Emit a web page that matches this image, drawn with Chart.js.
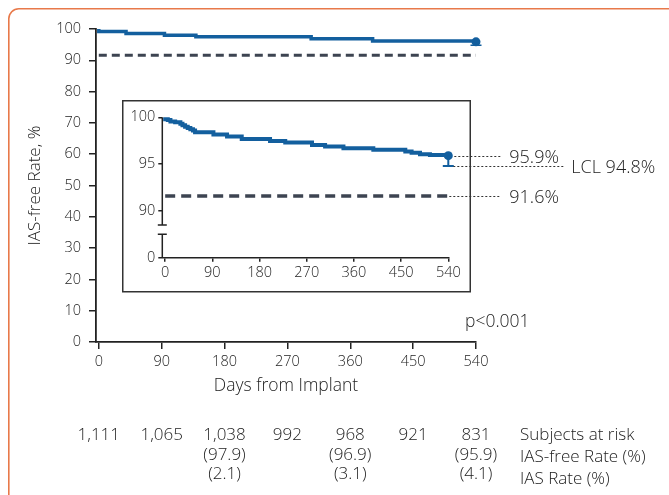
<!DOCTYPE html>
<html><head><meta charset="utf-8">
<script src="https://cdn.jsdelivr.net/npm/chart.js@4/dist/chart.umd.min.js"></script>
<style>
html,body{margin:0;padding:0;background:#fff;}
body{width:669px;height:495px;position:relative;overflow:hidden;font-family:"Open Sans",sans-serif;font-weight:300;color:#333;}
#main{position:absolute;left:0;top:0;}
#inset{position:absolute;left:122px;top:100px;}
.t{position:absolute;white-space:nowrap;font-size:15px;line-height:1;color:#222;font-weight:300;}
</style></head>
<body>
<canvas id="main" width="669" height="495"></canvas>
<canvas id="inset" width="547" height="193"></canvas>
<div id="labels"></div>
<script>
// ---- data ----
const dayTicks = [0, 90, 180, 270, 360, 450, 540];
// main (full-scale) Kaplan-Meier curve, as drawn in the large plot
const mainDays  = [0, 39, 94, 139, 304, 392, 466, 540];
const mainRates = [100, 99.2, 98.6, 98.0, 97.5, 96.9, 96.2, 96.2];
// inset (zoomed) Kaplan-Meier curve
const insetDays  = [0, 5, 10, 19, 29, 33, 38, 43, 48, 53, 57, 92, 118, 146, 200, 229, 280, 305, 340, 397, 458, 470, 486, 505, 524, 540];
const insetRates = [100, 99.8, 99.7, 99.55, 99.47, 99.3, 99.15, 99.0, 98.85, 98.72, 98.58, 98.4, 98.15, 97.94, 97.69, 97.48, 97.3, 97.05, 96.88, 96.7, 96.52, 96.34, 96.2, 96.06, 95.96, 95.96];
const finalDay = 540;
const finalRate = 95.9;
const lclRate = 94.8;
const thresholdRate = 91.6;
const insetYTicks = [85, 90, 95, 100];
const insetYTickLabels = ['0', '90', '95', '100'];
const atRisk   = ['1,111', '1,065', '1,038', '992', '968', '921', '831'];
const freeRate = ['', '', '(97.9)', '', '(96.9)', '', '(95.9)'];
const iasRate  = ['', '', '(2.1)', '', '(3.1)', '', '(4.1)'];
const rowLabels = ['Subjects at risk', 'IAS-free Rate (%)', 'IAS Rate (%)'];
const yTitle = 'IAS-free Rate, %';
const xTitle = 'Days from Implant';
const pText = 'p<0.001';

// ---- style ----
const blue = '#135f9e';
const dark = '#3d4451';
const axisCol = '#222';
const fontFam = '"Open Sans", sans-serif';
Chart.defaults.font.family = fontFam;
Chart.defaults.font.weight = 300;
Chart.defaults.color = '#222';

const pts = (xs, ys) => xs.map((d, i) => ({x: d, y: ys[i]}));

const errorBar = (capHalf, lw) => ({
  id: 'errbar',
  afterDatasetsDraw(chart) {
    const xs = chart.scales.x, ys = chart.scales.y, c = chart.ctx;
    const x = xs.getPixelForValue(finalDay);
    const y1 = ys.getPixelForValue(finalRate), y2 = ys.getPixelForValue(lclRate);
    c.save();
    c.strokeStyle = blue; c.lineWidth = lw;
    c.beginPath(); c.moveTo(x, y1); c.lineTo(x, y2);
    c.moveTo(x - capHalf, y2); c.lineTo(x + capHalf, y2); c.stroke();
    c.restore();
  }
});

// orange panel frame: only top and left edges fall inside the picture
const frame = {
  id: 'frame',
  beforeDraw(chart) {
    const c = chart.ctx, r = 10, x0 = 8.8, y0 = 8.8;
    c.save();
    c.strokeStyle = '#E8794A'; c.lineWidth = 1.6;
    c.beginPath();
    c.moveTo(x0, 496);
    c.lineTo(x0, y0 + r);
    c.arcTo(x0, y0, x0 + r, y0, r);
    c.lineTo(669, y0);
    c.stroke();
    c.restore();
  }
};

const main = new Chart(document.getElementById('main'), {
  type: 'line',
  data: { datasets: [
    { data: pts(mainDays, mainRates), stepped: 'after', borderColor: blue, borderWidth: 3.5, pointRadius: 0, clip: false },
    { data: [{x: 0, y: thresholdRate}, {x: finalDay, y: thresholdRate}], borderColor: dark, borderWidth: 3, borderDash: [8, 5], pointRadius: 0, clip: false },
    { data: [{x: finalDay, y: finalRate}], showLine: false, pointRadius: 4.5, pointBackgroundColor: blue, pointBorderWidth: 0, clip: false }
  ]},
  options: {
    responsive: false, animation: false, devicePixelRatio: 1,
    layout: { padding: { top: 29, right: 193, bottom: 0, left: 0 } },
    plugins: { legend: { display: false }, tooltip: { enabled: false } },
    scales: {
      x: { type: 'linear', min: -4, max: 540,
        afterBuildTicks: s => { s.ticks = dayTicks.map(v => ({value: v})); },
        afterFit: s => { s.height = 153; },
        grid: { drawOnChartArea: false, drawTicks: true, tickLength: 7, color: axisCol, lineWidth: 1.5 },
        border: { display: true, color: axisCol, width: 1.8 },
        ticks: { font: { size: 14.5 }, padding: 4, maxRotation: 0, autoSkip: false } },
      y: { min: 0, max: 100,
        afterFit: s => { s.width = 96; },
        title: { display: true, text: yTitle, font: { size: 17, weight: 300 }, color: '#222', padding: { top: 25, bottom: 0 } },
        grid: { drawOnChartArea: false, drawTicks: true, tickLength: 7, color: axisCol, lineWidth: 1.5 },
        border: { display: true, color: axisCol, width: 1.8 },
        ticks: { stepSize: 10, font: { size: 14.5 }, padding: 8 } }
    }
  },
  plugins: [frame, errorBar(5.5, 1.5)]
});

const insetDeco = {
  id: 'insetDeco',
  beforeDraw(chart) {
    const c = chart.ctx;
    c.save();
    c.fillStyle = '#fff'; c.fillRect(0, 0, 349, 193);
    c.strokeStyle = '#333'; c.lineWidth = 1.5;
    c.strokeRect(0.75, 0.75, 347.5, 191);
    c.restore();
  },
  afterDatasetsDraw(chart) {
    const xs = chart.scales.x, ys = chart.scales.y, c = chart.ctx;
    const ax = chart.chartArea.left;
    c.save();
    // y axis with break
    c.strokeStyle = axisCol; c.lineWidth = 1.5;
    const yTop = ys.getPixelForValue(100), yB1 = ys.getPixelForValue(88.5), yB2 = ys.getPixelForValue(87.5), yBot = chart.chartArea.bottom;
    c.beginPath();
    c.moveTo(ax, yTop); c.lineTo(ax, yB1);
    c.moveTo(ax - 4.5, yB1); c.lineTo(ax + 4.5, yB1);
    c.moveTo(ax - 4.5, yB2); c.lineTo(ax + 4.5, yB2);
    c.moveTo(ax, yB2); c.lineTo(ax, yBot);
    c.stroke();
    // leader lines
    const xe = xs.getPixelForValue(finalDay);
    c.strokeStyle = '#333'; c.lineWidth = 1; c.setLineDash([2, 2]);
    const lead = (v, x0, x1) => { const y = Math.round(ys.getPixelForValue(v)) + 0.5; c.beginPath(); c.moveTo(x0, y); c.lineTo(x1, y); c.stroke(); };
    lead(finalRate, xe + 6, xe + 53);
    lead(lclRate, xe + 5, xe + 117);
    lead(thresholdRate, xe + 1, xe + 53);
    c.restore();
  }
};

const inset = new Chart(document.getElementById('inset'), {
  type: 'line',
  data: { datasets: [
    { data: pts(insetDays, insetRates), stepped: 'after', borderColor: blue, borderWidth: 4, pointRadius: 0, clip: false },
    { data: [{x: 0, y: thresholdRate}, {x: finalDay, y: thresholdRate}], borderColor: dark, borderWidth: 3.5, borderDash: [10, 6], pointRadius: 0, clip: false },
    { data: [{x: finalDay, y: finalRate}], showLine: false, pointRadius: 4.5, pointBackgroundColor: blue, pointBorderWidth: 0, clip: false }
  ]},
  options: {
    responsive: false, animation: false, devicePixelRatio: 1,
    layout: { padding: { top: 17.3, right: 220.7, bottom: 0, left: 0 } },
    plugins: { legend: { display: false }, tooltip: { enabled: false } },
    scales: {
      x: { type: 'linear', min: -5.5, max: 540,
        afterBuildTicks: s => { s.ticks = dayTicks.map(v => ({value: v})); },
        afterFit: s => { s.height = 35.3; },
        grid: { drawOnChartArea: false, drawTicks: true, tickLength: 4, color: axisCol, lineWidth: 1.5 },
        border: { display: true, color: axisCol, width: 1.5 },
        ticks: { font: { size: 14.5 }, padding: 2, maxRotation: 0, autoSkip: false } },
      y: { min: 85, max: 100,
        afterBuildTicks: s => { s.ticks = insetYTicks.map(v => ({value: v})); },
        afterFit: s => { s.width = 40.3; },
        grid: { drawOnChartArea: false, drawTicks: true, tickLength: 4, color: axisCol, lineWidth: 1.5 },
        border: { display: false },
        ticks: { font: { size: 14.5 }, padding: 3,
          callback: v => insetYTickLabels[insetYTicks.indexOf(v)] } }
    }
  },
  plugins: [errorBar(5.5, 2), insetDeco]
});

// ---- text overlays ----
const L = document.getElementById('labels');
function addText(txt, x, y, opts = {}) {
  const d = document.createElement('div');
  d.className = 't'; d.textContent = txt;
  d.style.left = x + 'px'; d.style.top = y + 'px';
  if (opts.size) d.style.fontSize = opts.size + 'px';
  d.style.transform = opts.transform || 'translate(0,-50%)';
  L.appendChild(d);
  return d;
}
const mx = main.scales.x, my = main.scales.y;
const ix = inset.scales.x, iy = inset.scales.y;
const insetLeft = 122, insetTop = 100;
addText(xTitle, (mx.left + mx.right) / 2, 385, { size: 17.5, transform: 'translate(-50%,-50%)' });
addText(pText, 465, 321, { size: 17.5 });
const xe = insetLeft + ix.getPixelForValue(finalDay);
addText(finalRate + '%', xe + 61, insetTop + iy.getPixelForValue(finalRate), { size: 18 });
addText('LCL ' + lclRate + '%', xe + 123, insetTop + iy.getPixelForValue(lclRate), { size: 18 });
addText(thresholdRate + '%', xe + 61, insetTop + iy.getPixelForValue(thresholdRate), { size: 18 });
const rowY = [433, 453, 472];
const labelY = [433, 455, 477];
dayTicks.forEach((d, i) => {
  const x = mx.getPixelForValue(d);
  [atRisk[i], freeRate[i], iasRate[i]].forEach((t, r) => {
    if (t) addText(t, x, rowY[r], { size: 17, transform: 'translate(-50%,-50%)' });
  });
});
rowLabels.forEach((t, r) => addText(t, 520, labelY[r], { size: 17 }));
</script>
</body></html>
